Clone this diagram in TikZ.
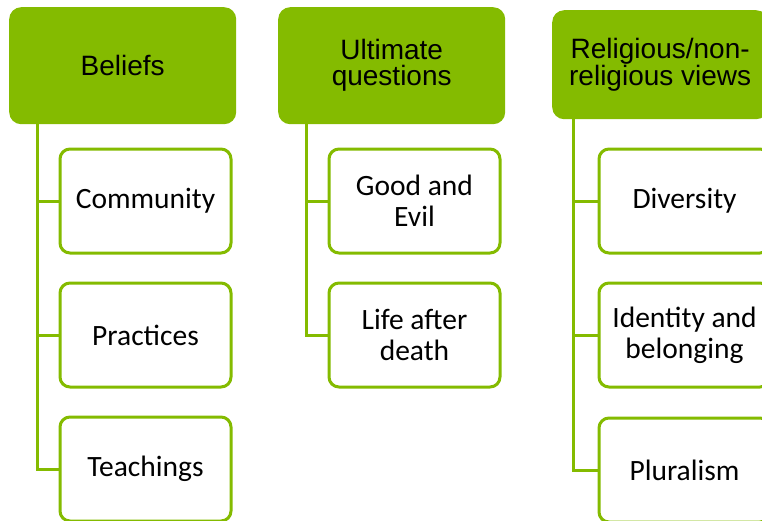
\documentclass[tikz,border=0pt]{standalone}
\usepackage{fontspec}
\newfontfamily\hfont{Liberation Sans}
\newfontfamily\cfont{Carlito}
\definecolor{G}{RGB}{132,187,0}
\tikzset{
  hdr/.style={fill=G, rounded corners=12pt, inner sep=0pt, anchor=north west, align=center,
    font=\hfont\fontsize{28}{26}\selectfont},
  child/.style={draw=G, line width=3pt, fill=white, rounded corners=10pt,
    minimum width=171pt, minimum height=104pt, inner sep=0pt, anchor=north west,
    align=center, font=\cfont\fontsize{29.5}{31}\selectfont},
  conn/.style={draw=G, line width=3pt}
}
\begin{document}
\begin{tikzpicture}[x=1pt,y=-1pt]
\useasboundingbox (0,0) rectangle (762,520);
\clip (0,0) rectangle (762,520);
% column 1
\node[hdr, minimum width=227pt, minimum height=117pt] (h1) at (9,7) {Beliefs};
\node[child] (c11) at (58.5,147.5) {Community};
\node[child] (c12) at (58.5,281.5) {Practices};
\node[child] (c13) at (58.5,415.5) {Teachings};
\coordinate (t1) at ([xshift=28pt]h1.south west);
\draw[conn] (t1) |- (c13.west);
\draw[conn] (c11.west) -- (c11.west -| t1);
\draw[conn] (c12.west) -- (c12.west -| t1);
% column 2
\node[hdr, minimum width=227pt, minimum height=117pt] (h2) at (278,7) {Ultimate\\questions};
\node[child] (c21) at (327.5,147.5) {Good and\\Evil};
\node[child] (c22) at (327.5,281.5) {Life after\\death};
\coordinate (t2) at ([xshift=28pt]h2.south west);
\draw[conn] (t2) |- (c22.west);
\draw[conn] (c21.west) -- (c21.west -| t2);
% column 3
\node[hdr, minimum width=216pt, minimum height=109pt] (h3) at (552,10) {Religious/non-\\religious views};
\node[child] (c31) at (597.5,147.5) {Diversity};
\node[child] (c32) at (597.5,281.5) {Identity and\\belonging};
\node[child] (c33) at (597.5,416.5) {Pluralism};
\coordinate (t3) at ([xshift=21.5pt]h3.south west);
\draw[conn] (t3) |- (c33.west);
\draw[conn] (c31.west) -- (c31.west -| t3);
\draw[conn] (c32.west) -- (c32.west -| t3);
\end{tikzpicture}
\end{document}
